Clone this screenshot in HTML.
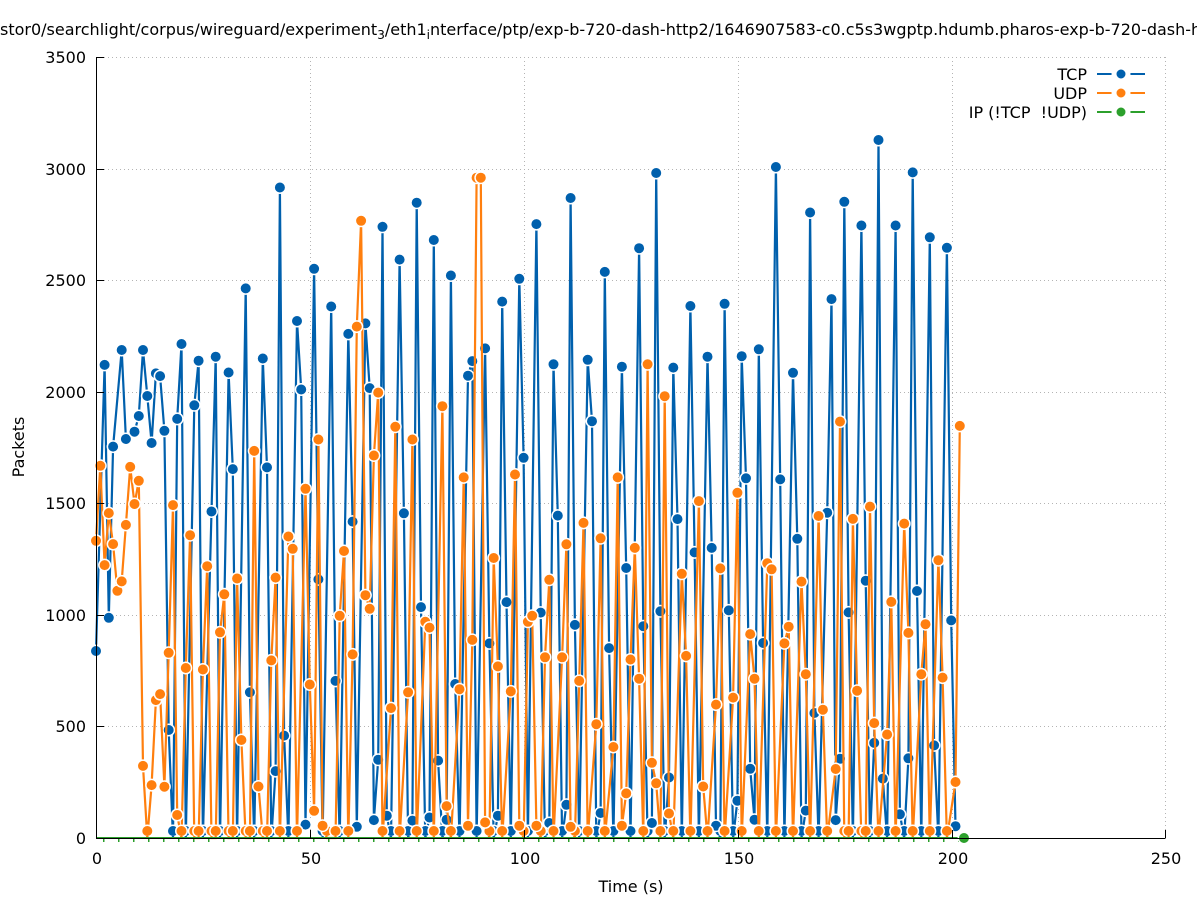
<!DOCTYPE html>
<html>
<head>
<meta charset="utf-8">
<style>
  html,body{margin:0;padding:0;background:#fff;}
  svg{display:block;}
  text{font-family:"DejaVu Sans","Liberation Sans",sans-serif;fill:#000;}
</style>
</head>
<body>
<svg id="chart" width="1197" height="900" viewBox="0 0 1197 900" xmlns="http://www.w3.org/2000/svg">
  <defs>
    <clipPath id="plotclip"><rect x="0" y="0" width="1197" height="836"/></clipPath>
  </defs>
  <rect x="0" y="0" width="1197" height="900" fill="#fff"/>
  <!-- title -->
  <text x="0" y="35" font-size="16">stor0/searchlight/corpus/wireguard/experiment<tspan font-size="12" dy="4">3</tspan><tspan dy="-4">/eth1</tspan><tspan font-size="12" dy="4">i</tspan><tspan dy="-4">nterface/ptp/exp-b-720-dash-http2/1646907583-c0.c5s3wgptp.hdumb.pharos-exp-b-720-dash-http2</tspan></text>

  <!-- grid -->
  <g stroke="#b4b4b4" stroke-width="1" stroke-dasharray="1 3" fill="none">
    <line x1="96" y1="57.5" x2="1165" y2="57.5"/>
    <line x1="96" y1="169.5" x2="1165" y2="169.5"/>
    <line x1="96" y1="280.5" x2="1165" y2="280.5"/>
    <line x1="96" y1="392.5" x2="1165" y2="392.5"/>
    <line x1="96" y1="503.5" x2="1165" y2="503.5"/>
    <line x1="96" y1="615.5" x2="1165" y2="615.5"/>
    <line x1="96" y1="726.5" x2="1165" y2="726.5"/>
    <line x1="310.5" y1="57" x2="310.5" y2="838"/>
    <line x1="524.5" y1="57" x2="524.5" y2="838"/>
    <line x1="738.5" y1="57" x2="738.5" y2="838"/>
    <line x1="952.5" y1="57" x2="952.5" y2="838"/>
    <line x1="1165.5" y1="57" x2="1165.5" y2="838"/>
  </g>

  <!-- green IP marks below axis -->
  <line x1="103" y1="840.5" x2="966" y2="840.5" stroke="#2ca02c" stroke-width="3" stroke-dasharray="1.5 13.5"/>

  <!-- data -->
  <g id="data"></g>

  <!-- axes -->
  <g stroke="#000" stroke-width="1" fill="none">
    <line x1="96.5" y1="57" x2="96.5" y2="838.5"/>
    <line x1="96" y1="838.5" x2="1165.5" y2="838.5"/>
    <line x1="96" y1="57.5" x2="104" y2="57.5"/>
    <line x1="96" y1="169.5" x2="104" y2="169.5"/>
    <line x1="96" y1="280.5" x2="104" y2="280.5"/>
    <line x1="96" y1="392.5" x2="104" y2="392.5"/>
    <line x1="96" y1="503.5" x2="104" y2="503.5"/>
    <line x1="96" y1="615.5" x2="104" y2="615.5"/>
    <line x1="96" y1="726.5" x2="104" y2="726.5"/>
    <line x1="310.5" y1="830" x2="310.5" y2="838"/>
    <line x1="524.5" y1="830" x2="524.5" y2="838"/>
    <line x1="738.5" y1="830" x2="738.5" y2="838"/>
    <line x1="952.5" y1="830" x2="952.5" y2="838"/>
    <line x1="1165.5" y1="830" x2="1165.5" y2="838"/>
  </g>

  <!-- y tick labels -->
  <g font-size="16" text-anchor="end">
    <text x="86" y="63">3500</text>
    <text x="86" y="175">3000</text>
    <text x="86" y="286">2500</text>
    <text x="86" y="398">2000</text>
    <text x="86" y="509">1500</text>
    <text x="86" y="621">1000</text>
    <text x="86" y="732">500</text>
    <text x="86" y="844">0</text>
  </g>
  <!-- x tick labels -->
  <g font-size="16" text-anchor="middle">
    <text x="97" y="864">0</text>
    <text x="311" y="864">50</text>
    <text x="525" y="864">100</text>
    <text x="739" y="864">150</text>
    <text x="953" y="864">200</text>
    <text x="1166" y="864">250</text>
  </g>

  <!-- axis titles -->
  <text font-size="16" text-anchor="middle" transform="translate(24,447) rotate(-90)">Packets</text>
  <text x="631" y="892" font-size="16" text-anchor="middle">Time (s)</text>

  <!-- legend -->
  <g font-size="16" text-anchor="end">
    <text x="1087" y="80">TCP</text>
    <text x="1087" y="99">UDP</text>
    <text x="1087" y="118">IP (!TCP&#160;&#160;!UDP)</text>
  </g>
  <g stroke-width="2">
    <line x1="1097" y1="74" x2="1145" y2="74" stroke="#0060ad"/>
    <line x1="1097" y1="93" x2="1145" y2="93" stroke="#ff7f0e"/>
    <line x1="1097" y1="112" x2="1145" y2="112" stroke="#2ca02c"/>
  </g>
  <g stroke="#fff" stroke-width="5">
    <circle cx="1121" cy="74" r="7" fill="#0060ad"/>
    <circle cx="1121" cy="93" r="7" fill="#ff7f0e"/>
    <circle cx="1121" cy="112" r="7" fill="#2ca02c"/>
  </g>
</svg>

<script>
(function(){
  var N = null;
  var tcp = [
    838,N,2120,987,1754,N,2187,1788,N,1821,
    1891,2187,1981,1770,2082,2070,1825,484,0,1878,
    2214,0,N,1939,2139,0,N,1463,2157,0,
    N,2086,1653,0,N,2463,653,0,N,2149,
    1661,0,300,2915,459,0,N,2317,2010,60,
    N,2551,1159,0,N,2382,704,0,N,2259,
    1418,50,N,2306,2016,80,351,2739,100,0,
    N,2592,1455,0,78,2847,1035,0,92,2680,
    347,0,82,2521,690,0,N,2072,2137,0,
    N,2194,872,0,100,2404,1057,0,N,2506,
    1704,0,N,2751,1010,0,67,2123,1445,0,
    149,2868,955,0,N,2143,1868,0,112,2537,
    851,0,N,2112,1210,0,N,2643,949,0,
    67,2980,1016,0,271,2108,1429,0,N,2384,
    1280,0,N,2157,1300,55,0,2394,1020,0,
    167,2159,1612,310,82,2190,874,0,N,3007,
    1607,0,N,2085,1341,0,123,2803,560,0,
    N,1458,2415,80,355,2851,1011,0,N,2745,
    1153,0,426,3128,266,0,N,2745,106,0,
    357,2983,1107,0,N,2692,415,0,N,2645,
    975,53
  ];
  var udp = [
    1332,1668,1223,1456,1317,1108,1150,1403,1663,1497,
    1601,323,0,237,618,645,230,830,1492,103,
    0,762,1357,0,0,755,1218,0,0,922,
    1092,0,0,1163,439,0,0,1735,231,0,
    0,796,1167,0,N,1351,1296,0,N,1565,
    688,122,1786,55,0,N,0,996,1286,0,
    823,2292,2766,1088,1027,1714,1996,0,N,582,
    1843,0,N,653,1786,0,N,969,943,0,
    N,1935,143,0,N,667,1616,55,888,2959,
    2959,70,0,1255,769,0,N,657,1629,55,
    0,969,996,55,0,810,1157,0,N,810,
    1316,50,0,704,1412,0,N,510,1343,0,
    N,408,1616,55,200,800,1300,714,0,2123,
    337,245,0,1980,110,0,N,1184,816,0,
    N,1510,231,0,N,598,1208,0,N,629,
    1547,0,N,914,714,0,N,1231,1204,0,
    N,872,947,0,N,1149,734,0,N,1443,
    575,0,N,309,1866,0,0,1430,660,0,
    0,1485,515,0,N,464,1058,0,N,1409,
    919,0,N,734,958,0,N,1245,719,0,
    N,251,1847
  ];
  function X(t){return 96 + t*4.276;}
  function Y(v){return 838 - v*0.22314;}
  function build(data,color){
    var d='', pts='', zpts='', first=true;
    for(var t=0;t<data.length;t++){
      var v=data[t];
      if(v===null) continue;
      var x=X(t).toFixed(1), y=Y(v).toFixed(1);
      d += (first?'M':'L')+x+','+y+' ';
      first=false;
      if(v>0) pts += '<circle cx="'+x+'" cy="'+y+'" r="5.75" fill="'+color+'" stroke="#fff" stroke-width="1.5"/>';
      else zpts += '<circle cx="'+x+'" cy="831" r="5.75" fill="'+color+'" stroke="#fff" stroke-width="1.5"/>';
    }
    return '<path d="'+d+'" fill="none" stroke="'+color+'" stroke-width="2.2" stroke-linejoin="miter" stroke-miterlimit="4"/>'
      + '<g clip-path="url(#plotclip)">'+zpts+'</g>' + pts;
  }
  var html = build(tcp,'#0060ad') + build(udp,'#ff7f0e');
  html += '<line x1="96" y1="838" x2="'+X(203).toFixed(1)+'" y2="838" stroke="#2ca02c" stroke-width="2"/>';
  html += '<circle cx="'+X(203).toFixed(1)+'" cy="838" r="5.75" fill="#2ca02c" stroke="#fff" stroke-width="1.5"/>';
  document.getElementById('data').innerHTML = html;
})();
</script>
</body>
</html>
